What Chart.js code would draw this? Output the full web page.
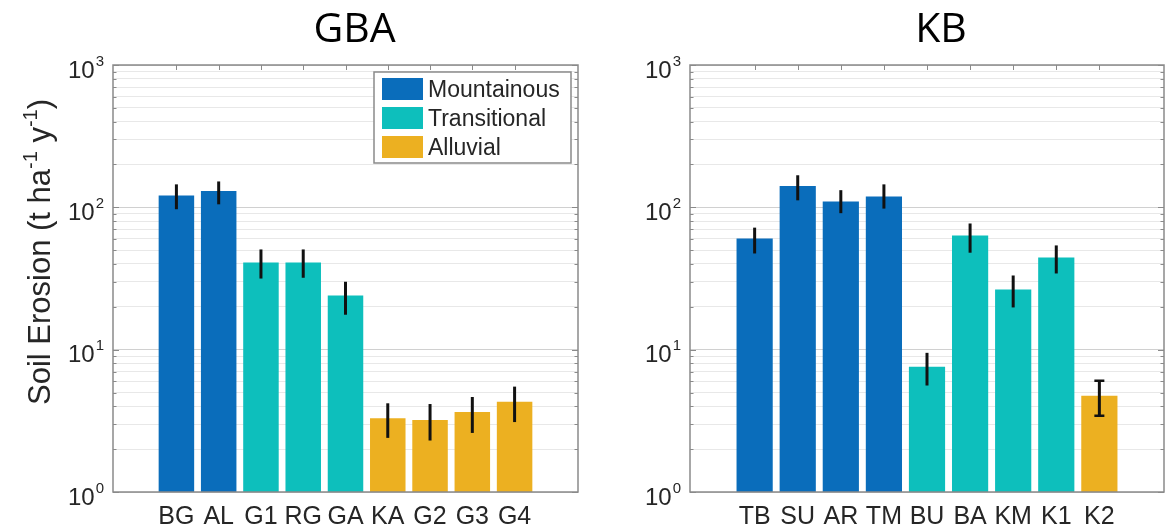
<!DOCTYPE html>
<html><head><meta charset="utf-8">
<script src="https://cdn.jsdelivr.net/npm/chart.js@4.4.1/dist/chart.umd.min.js"></script>
<style>
html,body{margin:0;padding:0;background:#fff;}
#wrap{position:relative;width:1176px;height:529px;overflow:hidden;background:#fff;}
canvas{position:absolute;top:0;}
</style></head><body>
<div id="wrap">
<canvas id="gba" width="590" height="529" style="left:0px;width:590px;height:529px"></canvas>
<canvas id="kb" width="586" height="529" style="left:590px;width:586px;height:529px"></canvas>
</div>
<script>
// ---- data ----
const zoneNames = ['Mountainous', 'Transitional', 'Alluvial'];
const zoneColors = ['#0a6dbb', '#0dbfbc', '#ecb021'];

const gbaSites   = ['BG', 'AL', 'G1', 'RG', 'GA', 'KA', 'G2', 'G3', 'G4'];
const gbaZone    = ['Mountainous', 'Mountainous', 'Transitional', 'Transitional', 'Transitional', 'Alluvial', 'Alluvial', 'Alluvial', 'Alluvial'];
const gbaErosion = [121, 130, 41, 41, 24, 3.3, 3.2, 3.65, 4.3];
const gbaLow     = [97, 105, 31.6, 32, 17.6, 2.4, 2.3, 2.6, 3.1];
const gbaHigh    = [145, 152, 50.6, 50.6, 30, 4.2, 4.15, 4.65, 5.5];

const kbSites    = ['TB', 'SU', 'AR', 'TM', 'BU', 'BA', 'KM', 'K1', 'K2'];
const kbZone     = ['Mountainous', 'Mountainous', 'Mountainous', 'Mountainous', 'Transitional', 'Transitional', 'Transitional', 'Transitional', 'Alluvial'];
const kbErosion  = [60.5, 141, 110, 119, 7.6, 63.5, 26.5, 44.5, 4.75];
const kbLow      = [47.4, 112, 91, 98, 5.6, 48, 19.8, 34.3, 3.43];
const kbHigh     = [72, 168, 132, 145, 9.5, 77, 33.2, 54, 6.05];

const yDecadeExponents = [0, 1, 2, 3];
const yGridMantissas = [1, 2, 3, 4, 5, 6, 7, 8, 9];

// ---- helpers ----
const SANS = '"Liberation Sans", Arial, Helvetica, sans-serif';
const TEXT = '#262626';
const yGridValues = [];
yDecadeExponents.forEach(e => {
  if (e === 3) { yGridValues.push(1000); return; }
  yGridMantissas.forEach(m => yGridValues.push(m * Math.pow(10, e)));
});
const zoneColor = z => zoneColors[zoneNames.indexOf(z)];

const decor = {
  id: 'decor',
  afterDatasetsDraw(chart, args, o) {
    const {ctx, chartArea: a, scales: {x, y}} = chart;
    ctx.save();
    // error bars
    ctx.strokeStyle = '#111';
    o.low.forEach((lo, i) => {
      const px = x.getPixelForValue(i + 1);
      const y1 = y.getPixelForValue(lo), y2 = y.getPixelForValue(o.high[i]);
      ctx.lineWidth = 3;
      ctx.beginPath(); ctx.moveTo(px, y1); ctx.lineTo(px, y2); ctx.stroke();
      if (o.caps.includes(i)) {
        ctx.lineWidth = 2.5;
        ctx.beginPath();
        ctx.moveTo(px - 5, y1); ctx.lineTo(px + 5, y1);
        ctx.moveTo(px - 5, y2); ctx.lineTo(px + 5, y2);
        ctx.stroke();
      }
    });
    // axes box
    ctx.strokeStyle = '#8a8a8a';
    ctx.lineWidth = 1.5;
    ctx.strokeRect(a.left, a.top, a.right - a.left, a.bottom - a.top);
    // inner ticks
    ctx.lineWidth = 1;
    ctx.beginPath();
    y.ticks.forEach(t => {
      const py = Math.round(y.getPixelForValue(t.value)) + 0.5;
      const len = t.major ? 6 : 3.5;
      ctx.moveTo(a.left, py); ctx.lineTo(a.left + len, py);
      ctx.moveTo(a.right, py); ctx.lineTo(a.right - len, py);
    });
    o.sites.forEach((s, i) => {
      const px = Math.round(x.getPixelForValue(i + 1)) + 0.5;
      ctx.moveTo(px, a.top); ctx.lineTo(px, a.top + 5);
    });
    ctx.stroke();
    ctx.restore();
  },
  afterDraw(chart, args, o) {
    const {ctx, chartArea: a, scales: {x, y}} = chart;
    ctx.save();
    ctx.fillStyle = TEXT;
    // y tick labels 10^k
    yDecadeExponents.forEach(e => {
      const py = y.getPixelForValue(Math.pow(10, e));
      ctx.font = '24px ' + SANS;
      const w10 = ctx.measureText('10').width;
      ctx.font = '15px ' + SANS;
      const we = ctx.measureText(String(e)).width;
      const right = a.left - 9;
      const start = right - w10 - we - 1;
      ctx.textAlign = 'left'; ctx.textBaseline = 'alphabetic';
      ctx.font = '24px ' + SANS;
      ctx.fillText('10', start, py + 12.5);
      ctx.font = '15px ' + SANS;
      ctx.fillText(String(e), start + w10 + 1, py + 0.5);
    });
    // x labels
    ctx.font = '25px ' + SANS;
    ctx.textAlign = 'center';
    o.sites.forEach((s, i) => {
      ctx.fillText(s, x.getPixelForValue(i + 1), 524);
    });
    // title
    ctx.fillStyle = '#000';
    ctx.font = '41px "Open Sans", "Noto Sans", sans-serif';
    ctx.textAlign = 'center';
    ctx.fillText(o.title, o.titleX, 42);
    // y axis title
    if (o.yTitle) {
      ctx.fillStyle = TEXT;
      const big = '31px ' + SANS, small = '20px ' + SANS;
      const parts = [['Soil Erosion (t ha', big, 0], ['-1', small, -13], [' y', big, 0], ['-1', small, -13], [')', big, 0]];
      let total = 0;
      parts.forEach(p => { ctx.font = p[1]; p.push(ctx.measureText(p[0]).width); total += p[3]; });
      ctx.translate(50, 252);
      ctx.rotate(-Math.PI / 2);
      ctx.textAlign = 'left';
      let cx = -total / 2;
      parts.forEach(p => { ctx.font = p[1]; ctx.fillText(p[0], cx, p[2]); cx += p[3]; });
      ctx.setTransform(1, 0, 0, 1, 0, 0);
    }
    // legend
    if (o.legend) {
      const L = 374, T = 72, R = 571, B = 163;
      ctx.fillStyle = '#fff';
      ctx.fillRect(L, T, R - L, B - T);
      ctx.strokeStyle = '#8a8a8a'; ctx.lineWidth = 1.5;
      ctx.strokeRect(L, T, R - L, B - T);
      ctx.font = '23px ' + SANS;
      ctx.textAlign = 'left'; ctx.textBaseline = 'alphabetic';
      zoneNames.forEach((z, i) => {
        const cy = 89 + i * 29;
        ctx.fillStyle = zoneColors[i];
        ctx.fillRect(382, cy - 11, 41, 22);
        ctx.fillStyle = TEXT;
        ctx.fillText(z, 428, cy + 8);
      });
    }
    ctx.restore();
  }
};

function makeChart(id, sites, zones, values, low, high, pad, extra) {
  return new Chart(document.getElementById(id), {
    type: 'bar',
    data: {
      datasets: [{
        label: 'Soil Erosion',
        data: values.map((v, i) => ({x: i + 1, y: v})),
        backgroundColor: zones.map(zoneColor),
        borderWidth: 0,
        barPercentage: 0.84,
        categoryPercentage: 1.0
      }]
    },
    options: {
      responsive: false,
      devicePixelRatio: 1,
      animation: false,
      events: [],
      layout: {padding: pad},
      plugins: {
        legend: {display: false},
        tooltip: {enabled: false},
        title: {display: false},
        decor: Object.assign({sites, low, high}, extra)
      },
      scales: {
        x: {
          type: 'linear', min: 0, max: 10, display: false,
          ticks: {stepSize: 1}
        },
        y: {
          type: 'logarithmic', min: 1, max: 1000,
          afterBuildTicks: s => { s.ticks = yGridValues.map(v => ({value: v, major: Number.isInteger(Math.log10(v))})); },
          ticks: {display: false},
          grid: {
            drawTicks: false,
            lineWidth: 1,
            color: c => (c.tick && c.tick.major) ? '#d0d0d0' : '#e8e8e8'
          },
          border: {display: false}
        }
      }
    },
    plugins: [decor]
  });
}

makeChart('gba', gbaSites, gbaZone, gbaErosion, gbaLow, gbaHigh,
  {left: 113, right: 12, top: 65, bottom: 37},
  {title: 'GBA', titleX: 354.5, yTitle: true, legend: true, caps: []});
makeChart('kb', kbSites, kbZone, kbErosion, kbLow, kbHigh,
  {left: 100, right: 12, top: 65, bottom: 37},
  {title: 'KB', titleX: 351, yTitle: false, legend: false, caps: [8]});
</script>
</body></html>
